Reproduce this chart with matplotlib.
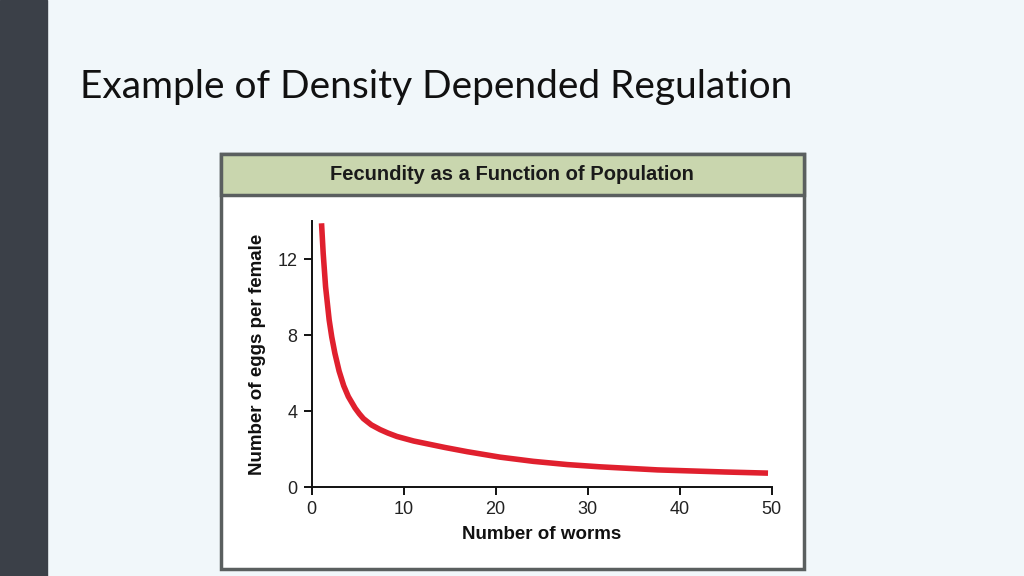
import matplotlib
matplotlib.use('Agg')
import matplotlib.pyplot as plt
from matplotlib.patches import Rectangle

# donnees
worms = [1.09, 1.27, 1.53, 1.92, 2.2, 2.54, 3.0, 3.5, 4.0, 4.74, 5.2, 5.64, 6.5, 7.46,
         8.3, 9.28, 11.1, 12.7, 14.5, 16.9, 20.5, 24.1, 27.8, 31.4, 37.6, 44.9, 49.6]
eggs = [13.88, 12.3, 10.54, 8.79, 7.9, 7.04, 6.1, 5.33, 4.76, 4.15, 3.85, 3.6, 3.27, 3.02,
        2.84, 2.66, 2.42, 2.26, 2.08, 1.86, 1.57, 1.35, 1.18, 1.06, 0.9, 0.79, 0.73]
xticks = [0, 10, 20, 30, 40, 50]
yticks = [0, 4, 8, 12]

W, H = 1024, 576
fig = plt.figure(figsize=(W / 100, H / 100), dpi=100)
fig.patch.set_facecolor('#f1f7fa')

def px(x0, y0, x1, y1):
    # rectangle en pixels (origine en haut a gauche) -> coordonnees figure
    return (x0 / W, 1 - y1 / H), (x1 - x0) / W, (y1 - y0) / H

# bande sombre a gauche
xy, w, h = px(0, 0, 47, 576)
fig.patches.append(Rectangle(xy, w, h, transform=fig.transFigure, color='#3b4048', zorder=0))

fig.text(80 / W, 1 - 98 / H, 'Example of Density Depended Regulation',
         fontsize=28, family='Lato', color='#111111',
         va='baseline', ha='left')

# cadre du graphique
xy, w, h = px(221, 154, 804, 569)
fig.patches.append(Rectangle(xy, w, h, transform=fig.transFigure, facecolor='white',
                             edgecolor='#5a5f5f', lw=2.5, zorder=0))
xy, w, h = px(221, 154, 804, 195)
fig.patches.append(Rectangle(xy, w, h, transform=fig.transFigure, facecolor='#c9d6ae',
                             edgecolor='#5a5f5f', lw=2.5, zorder=0))
fig.text(512 / W, 1 - 175 / H, 'Fecundity as a Function of Population',
         fontsize=14.5, family='Liberation Sans', fontweight='bold', color='#1a1a1a',
         ha='center', va='center')

ax = fig.add_axes([311.5 / W, 89 / H, 460.2 / W, 266 / H])
ax.set_zorder(5)
ax.set_facecolor('none')
ax.plot(worms, eggs, color='#e0202e', lw=4, solid_capstyle='butt',
        solid_joinstyle='round', clip_on=True)
ax.set_xlim(0, 50)
ax.set_ylim(0, 14)
ax.set_xticks(xticks)
ax.set_yticks(yticks)
for s in ['top', 'right']:
    ax.spines[s].set_visible(False)
for s in ['left', 'bottom']:
    ax.spines[s].set_linewidth(1.4)
    ax.spines[s].set_color('#111111')
ax.tick_params(direction='out', length=6, width=1.4, color='#111111',
               labelsize=13, labelcolor='#222222', pad=4)
for lab in ax.get_xticklabels() + ax.get_yticklabels():
    lab.set_family('Liberation Sans')
ax.set_xlabel('Number of worms', fontsize=13.5, family='Liberation Sans',
              fontweight='bold', color='#111111', labelpad=6)
ax.set_ylabel('Number of eggs per female', fontsize=13.5, family='Liberation Sans',
              fontweight='bold', color='#111111', labelpad=8)

fig.savefig('out.png', dpi=100, facecolor=fig.get_facecolor())
